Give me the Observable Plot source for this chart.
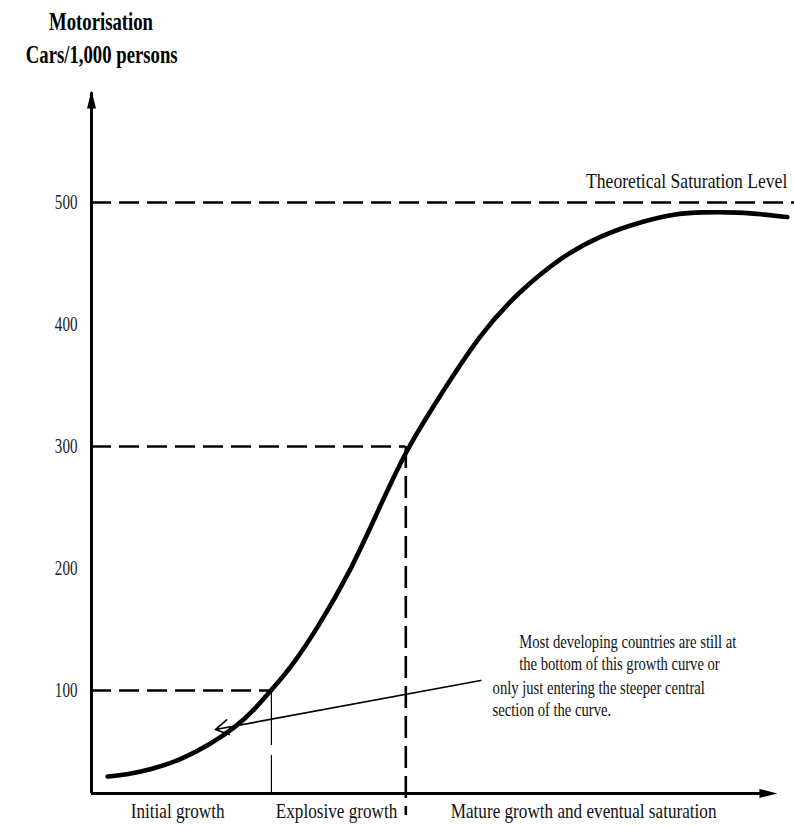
<!DOCTYPE html>
<html><head><meta charset="utf-8">
<script src="https://cdn.jsdelivr.net/npm/d3@7"></script>
<script src="https://cdn.jsdelivr.net/npm/@observablehq/plot@0.6"></script>
<style>
body{margin:0;background:#fff;}
#header{position:relative;height:72px;width:794px;font-family:"Liberation Serif",serif;font-weight:bold;font-size:26px;color:#000;}
#header div{position:absolute;left:0;width:184px;text-align:center;transform:scaleX(0.72);line-height:33px;white-space:nowrap;}
#chart svg{display:block;}
</style></head>
<body>
<div id="header"><div style="top:5px;left:9px">Motorisation</div><div style="top:38px">Cars/1,000 persons</div></div>
<div id="chart"></div>
<script>
// ---- data (x = time index 0..100, y = cars per 1,000 persons) ----
const curveT = [2.3, 4.9, 8.4, 12.7, 17.0, 20.6, 23.4, 25.6, 28.4, 32.4, 37.0, 40.6, 44.9, 49.4, 55.6, 60.9, 67.0, 72.7, 78.9, 83.7, 87.0, 92.7, 96.3, 99.4];
const curveV = [29.5, 31, 35, 43, 56, 70, 85, 100, 118, 152, 198, 243, 297, 338, 393, 426, 455, 473, 485, 491, 492, 492, 490, 488];
const yTicks = [100, 200, 300, 400, 500];
const saturationLevel = 500;
const saturationLabel = "Theoretical Saturation Level";
const stageLevels = [100, 300];          // motorisation levels bounding the explosive stage
const stageBreaks = [25.7, 44.9];        // time where the curve reaches those levels
const stageLabels = ["Initial growth", "Explosive growth", "Mature growth and eventual saturation"];
const stageCenters = [12.3, 35.0, 70.3];
const noteLines = [
  "Most developing countries are still at",
  "the bottom of this growth curve or",
  "only just entering the steeper central",
  "section of the curve."
];
const noteX = [61.1, 61.1, 57.3, 57.3];
const noteY = [135.2, 116.4, 97.5, 78.7];
const pointer = {x1: 55.6, y1: 108.2, x2: 17.7, y2: 68.0};
const axisBase = 15.6;   // level where the horizontal axis sits
const axisTopV = 590;    // top of vertical axis
const axisEndT = 97;     // end of horizontal axis

const curve = curveT.map((t, i) => ({t, v: curveV[i]}));
const levels = stageLevels.map((v, i) => ({v, t: stageBreaks[i]}));
const stages = stageLabels.map((label, i) => ({label, t: stageCenters[i]}));
const notes = noteLines.map((text, i) => ({text, t: noteX[i], v: noteY[i]}));

const narrowTriangle = {
  draw(ctx, size) {
    const k = Math.sqrt(size / Math.PI);
    ctx.moveTo(0, -k); ctx.lineTo(k * 0.5, k); ctx.lineTo(-k * 0.5, k); ctx.closePath();
  }
};

const chart = Plot.plot({
  width: 794, height: 754,
  marginLeft: 91, marginRight: 3, marginTop: 0, marginBottom: 14,
  x: {domain: [0, 100], axis: null},
  y: {domain: [0, 606.5]},
  style: {fontFamily: '"Liberation Serif", serif', background: "#fff", color: "#000", overflow: "visible"},
  marks: [
    Plot.axisY({ticks: yTicks, tickSize: 0, tickPadding: 14, label: null, fontSize: 21, fill: "#222"}),
    // dashed guides
    Plot.ruleY([saturationLevel], {x1: 0, x2: 100.5, stroke: "#000", strokeWidth: 2.6, strokeDasharray: "20,8"}),
    Plot.ruleY(levels, {y: "v", x1: 0, x2: "t", stroke: "#000", strokeWidth: 2.6, strokeDasharray: "20,8"}),
    Plot.ruleX([stageBreaks[1]], {y1: stageLevels[1], y2: -2.5, stroke: "#000", strokeWidth: 2.6, strokeDasharray: "22,8"}),
    Plot.ruleX([stageBreaks[0]], {y1: stageLevels[0], y2: axisBase, stroke: "#000", strokeWidth: 1.2, strokeDasharray: "55,10"}),
    // axes
    Plot.ruleX([0], {y1: axisBase, y2: axisTopV, stroke: "#000", strokeWidth: 3}),
    Plot.ruleY([axisBase], {x1: 0, x2: axisEndT, stroke: "#000", strokeWidth: 3}),
    Plot.dot([{t: 0, v: 584.4}], {x: "t", y: "v", symbol: narrowTriangle, r: 9, fill: "#000", stroke: null}),
    Plot.dot([{t: 96.7, v: axisBase}], {x: "t", y: "v", symbol: narrowTriangle, r: 9, fill: "#000", stroke: null, rotate: 90}),
    // S-curve
    Plot.line(curve, {x: "t", y: "v", curve: "basis", stroke: "#000", strokeWidth: 4.6, strokeLinecap: "round"}),
    // pointer arrow
    Plot.arrow([pointer], {x1: "x1", y1: "y1", x2: "x2", y2: "y2", bend: 0, stroke: "#000", strokeWidth: 1.7, headLength: 13}),
    // labels
    Plot.text([saturationLabel], {x: 99.4, y: 511.5, text: d => d, textAnchor: "end", lineAnchor: "bottom", fontSize: 20, fill: "#111", ariaLabel: () => "satlabel"}),
    Plot.text(stages, {x: "t", y: -4.9, text: "label", textAnchor: "middle", lineAnchor: "bottom", fontSize: 22, fill: "#111", ariaLabel: () => "stagelabel"}),
    Plot.text(notes, {x: "t", y: "v", text: "text", textAnchor: "start", lineAnchor: "bottom", fontSize: 19, fill: "#111", ariaLabel: () => "noteline"})
  ]
});
document.getElementById("chart").append(chart);

// horizontally condense texts (the reference uses a narrow serif face)
function condense(sel, f) {
  chart.querySelectorAll(sel).forEach(el => {
    const tr = el.getAttribute("transform");
    if (tr && !el.hasAttribute("x")) {
      el.setAttribute("transform", `${tr} scale(${f},1)`);
    } else {
      const L = el.getComputedTextLength();
      if (L > 0) {
        el.setAttribute("textLength", (L * f).toFixed(1));
        el.setAttribute("lengthAdjust", "spacingAndGlyphs");
      }
    }
  });
}
condense('g[aria-label="y-axis tick label"] text', 0.72);
condense('text[aria-label="stagelabel"]', 0.78);
condense('text[aria-label="satlabel"]', 0.88);
condense('text[aria-label="noteline"]', 0.77);
</script>
</body></html>
